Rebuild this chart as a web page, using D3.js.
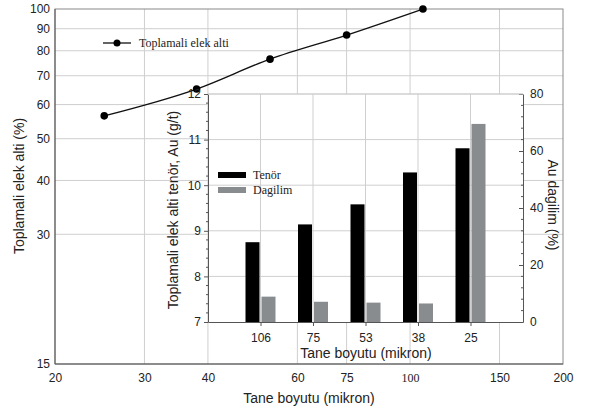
<!DOCTYPE html>
<html><head><meta charset="utf-8">
<script src="https://cdn.jsdelivr.net/npm/d3@7"></script>
<style>body{margin:0;background:#fff}svg{display:block}</style>
</head><body><svg id="c" width="591" height="414"></svg>
<script>
// ---- data ----
const outerSizes = [25, 38, 53, 75, 106];
const cumPassing = [56.5, 65.2, 76.5, 87, 100];
const outerXTicks = [20, 30, 40, 60, 75, 100, 150, 200];
const outerYTicks = [15, 30, 40, 50, 60, 70, 80, 90, 100];
const categories = ["106", "75", "53", "38", "25"];
const grade = [8.75, 9.14, 9.58, 10.28, 10.81];
const distribution = [8.9, 7.1, 6.8, 6.5, 69.5];
const gradeTicks = [7, 8, 9, 10, 11, 12];
const distTicks = [0, 20, 40, 60, 80];

const SANS = "'Liberation Sans', Arial, sans-serif";
const SERIF = "'Liberation Serif', 'Times New Roman', serif";
const GRID = "#cfcfcf";
const AXIS = "#555";
const svg = d3.select("#c");

// ---- outer chart ----
const ox = d3.scaleLog().domain([20, 200]).range([55, 563]);
const oy = d3.scaleLog().domain([15, 100]).range([364, 9]);

const og = svg.append("g");
og.selectAll(".vg").data(outerXTicks.slice(1, -1)).join("line")
  .attr("x1", d => ox(d)).attr("x2", d => ox(d)).attr("y1", oy(100)).attr("y2", oy(15))
  .attr("stroke", GRID).attr("stroke-width", 1);
og.selectAll(".hg").data(outerYTicks.slice(1, -1)).join("line")
  .attr("y1", d => oy(d)).attr("y2", d => oy(d)).attr("x1", ox(20)).attr("x2", ox(200))
  .attr("stroke", GRID).attr("stroke-width", 1);
og.append("rect").attr("x", ox(20)).attr("y", oy(100)).attr("width", ox(200) - ox(20)).attr("height", oy(15) - oy(100))
  .attr("fill", "none").attr("stroke", "#8a8a8a").attr("stroke-width", 1);
og.append("line").attr("x1", ox(20)).attr("x2", ox(20)).attr("y1", oy(100)).attr("y2", oy(15)).attr("stroke", AXIS);
og.append("line").attr("x1", ox(20)).attr("x2", ox(200)).attr("y1", oy(15)).attr("y2", oy(15)).attr("stroke", AXIS);

const axL = og.append("g").attr("transform", `translate(${ox(20)},0)`)
  .call(d3.axisLeft(oy).tickValues(outerYTicks).tickFormat(d3.format("d")).tickSize(0).tickPadding(5));
axL.select(".domain").remove();
axL.selectAll("text").attr("font-family", SANS).attr("font-size", 12).attr("fill", "#222");
const axB = og.append("g").attr("transform", `translate(0,${oy(15)})`)
  .call(d3.axisBottom(ox).tickValues(outerXTicks).tickFormat(d3.format("d")).tickSize(0).tickPadding(9));
axB.select(".domain").remove();
axB.selectAll("text").attr("font-family", d => d === 100 ? SERIF : SANS).attr("font-size", 12).attr("fill", "#222");

og.append("text").attr("transform", `translate(24,186) rotate(-90)`).attr("text-anchor", "middle")
  .attr("font-family", SANS).attr("font-size", 14).attr("fill", "#222").text("Toplamali elek alti (%)");
og.append("text").attr("x", 309).attr("y", 403).attr("text-anchor", "middle")
  .attr("font-family", SANS).attr("font-size", 14).attr("fill", "#222").text("Tane boyutu (mikron)");

const pts = outerSizes.map((s, i) => [ox(s), oy(cumPassing[i])]);
og.append("path").attr("d", d3.line().curve(d3.curveMonotoneX)(pts))
  .attr("fill", "none").attr("stroke", "#111").attr("stroke-width", 1.3);
og.selectAll(".pt").data(pts).join("circle").attr("cx", d => d[0]).attr("cy", d => d[1]).attr("r", 3.8).attr("fill", "#000");

// outer legend
og.append("line").attr("x1", 103).attr("x2", 131).attr("y1", 43).attr("y2", 43).attr("stroke", "#111").attr("stroke-width", 1.3);
og.append("circle").attr("cx", 117).attr("cy", 43).attr("r", 3.5).attr("fill", "#000");
og.append("text").attr("x", 139).attr("y", 47).attr("font-family", SERIF).attr("font-size", 12).attr("fill", "#222").text("Toplamali elek alti");

// ---- inner chart ----
const L = 208, R = 523, T = 94, B = 322;
const ix = d3.scalePoint().domain(categories).range([L, R]).padding(1);
const iyG = d3.scaleLinear().domain([7, 12]).range([B, T]);
const iyD = d3.scaleLinear().domain([0, 80]).range([B, T]);

const ig = svg.append("g");
ig.append("rect").attr("x", L).attr("y", T).attr("width", R - L).attr("height", B - T).attr("fill", "#fff");
ig.selectAll(".ivg").data(categories).join("line")
  .attr("x1", d => ix(d)).attr("x2", d => ix(d)).attr("y1", T).attr("y2", B).attr("stroke", GRID);
ig.selectAll(".ihg").data(gradeTicks.slice(1)).join("line")
  .attr("y1", d => iyG(d)).attr("y2", d => iyG(d)).attr("x1", L).attr("x2", R).attr("stroke", GRID);

const bw = 14;
ig.selectAll(".bg").data(categories).join("rect")
  .attr("x", d => ix(d) - 1 - bw).attr("width", bw)
  .attr("y", (d, i) => iyG(grade[i])).attr("height", (d, i) => B - iyG(grade[i])).attr("fill", "#000");
ig.selectAll(".bd").data(categories).join("rect")
  .attr("x", d => ix(d) + 1).attr("width", bw)
  .attr("y", (d, i) => iyD(distribution[i])).attr("height", (d, i) => B - iyD(distribution[i])).attr("fill", "#888c8f");

// axes
const minorG = d3.range(7, 12.001, 0.2).filter(v => Math.abs(v - Math.round(v)) > 0.01);
const minorD = d3.range(0, 80.001, 4).filter(v => v % 20 !== 0);
const la = ig.append("g").attr("transform", `translate(${L},0)`);
la.call(d3.axisLeft(iyG).tickValues(gradeTicks).tickFormat(d3.format("d")).tickSize(4).tickSizeOuter(0).tickPadding(3));
la.selectAll(".mn").data(minorG).join("line").attr("x1", 0).attr("x2", -2).attr("y1", d => iyG(d)).attr("y2", d => iyG(d)).attr("stroke", AXIS);
const ra = ig.append("g").attr("transform", `translate(${R},0)`);
ra.call(d3.axisRight(iyD).tickValues(distTicks).tickSize(-4).tickSizeOuter(0).tickPadding(7));
ra.selectAll(".mn").data(minorD).join("line").attr("x1", 0).attr("x2", -2).attr("y1", d => iyD(d)).attr("y2", d => iyD(d)).attr("stroke", AXIS);
const ba = ig.append("g").attr("transform", `translate(0,${B})`);
ba.call(d3.axisBottom(ix).tickSize(4).tickSizeOuter(0).tickPadding(7));
[la, ra, ba].forEach(a => {
  a.select(".domain").attr("stroke", AXIS);
  a.selectAll(".tick line").attr("stroke", AXIS);
  a.selectAll("text").attr("font-family", SANS).attr("font-size", 12).attr("fill", "#222");
});
ig.append("line").attr("x1", L).attr("x2", R).attr("y1", T).attr("y2", T).attr("stroke", GRID);

ig.append("text").attr("transform", `translate(178,210) rotate(-90)`).attr("text-anchor", "middle")
  .attr("font-family", SANS).attr("font-size", 14).attr("fill", "#222").text("Toplamali elek alti tenör, Au (g/t)");
ig.append("text").attr("transform", `translate(548,205) rotate(90)`).attr("text-anchor", "middle")
  .attr("font-family", SANS).attr("font-size", 14).attr("fill", "#222").text("Au dagilim (%)");
ig.append("text").attr("x", 366).attr("y", 358).attr("text-anchor", "middle")
  .attr("font-family", SANS).attr("font-size", 14).attr("fill", "#222").text("Tane boyutu (mikron)");

// inner legend
ig.append("rect").attr("x", 218).attr("y", 172).attr("width", 28).attr("height", 6).attr("fill", "#000");
ig.append("rect").attr("x", 218).attr("y", 187).attr("width", 28).attr("height", 6).attr("fill", "#888c8f");
ig.append("text").attr("x", 253).attr("y", 179).attr("font-family", SERIF).attr("font-size", 12).attr("fill", "#222").text("Tenör");
ig.append("text").attr("x", 253).attr("y", 194).attr("font-family", SERIF).attr("font-size", 12).attr("fill", "#222").text("Dagilim");
</script></body></html>
